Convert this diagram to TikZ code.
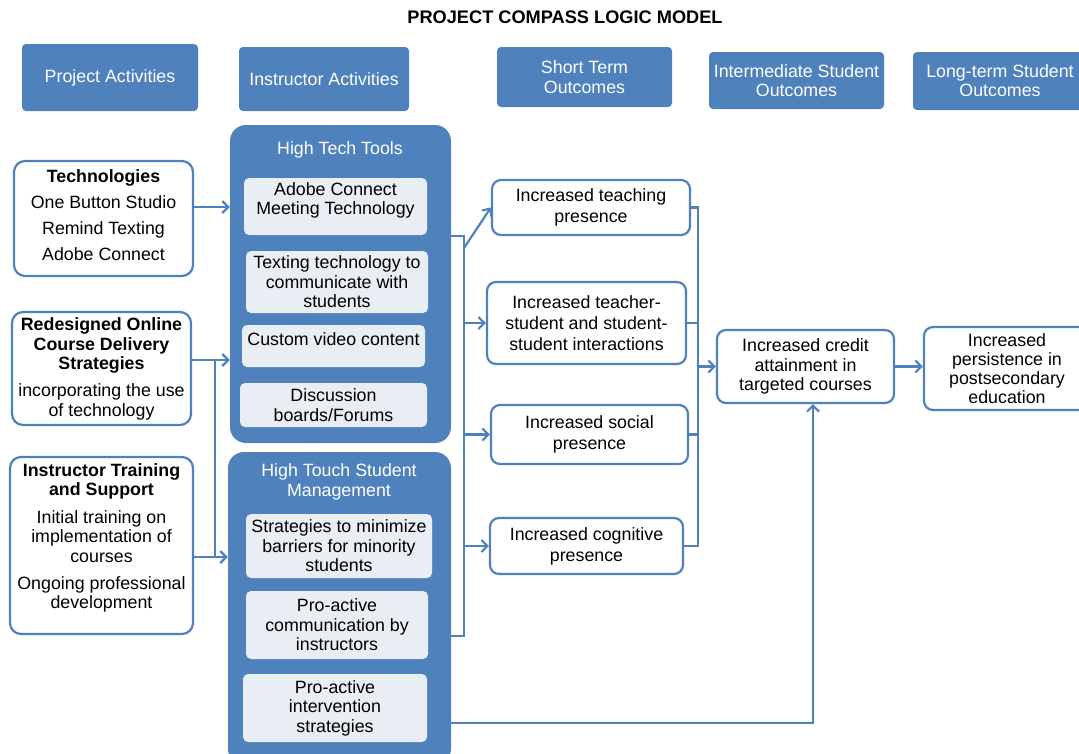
\documentclass[tikz,border=0pt]{standalone}
\usepackage{fontspec}
\setmainfont{Liberation Sans}
\usetikzlibrary{arrows.meta,calc}
\definecolor{cblue}{HTML}{4F81BD}
\definecolor{clight}{HTML}{E9EDF4}
\begin{document}
\begin{tikzpicture}[x=1pt,y=-1pt,
 every node/.style={font=\fontsize{17.8}{19.5}\selectfont, inner sep=0pt, align=center},
 hdr/.style={fill=cblue, text=white, rounded corners=4pt},
 lbox/.style={draw=cblue, line width=2.2pt, fill=white, rounded corners=11pt},
 obox/.style={draw=cblue, line width=2.2pt, fill=white, rounded corners=9pt, font=\fontsize{17.8}{21}\selectfont},
 cont/.style={fill=cblue, rounded corners=16pt},
 ibox/.style={fill=clight, rounded corners=5pt},
 conn/.style={draw=cblue, line width=2.2pt},
 arr/.style={conn, -{Straight Barb[length=6pt,width=12pt,line width=2.2pt]}},
]
\useasboundingbox (0,0) rectangle (1079,753);

% title
\node[font=\fontsize{18.2}{20}\selectfont\bfseries] (title) at (565,17) {PROJECT COMPASS LOGIC MODEL};

% headers
\node[hdr, minimum width=176, minimum height=67] (h1) at (110,77.5) {Project Activities};
\node[hdr, minimum width=170, minimum height=64] (h2) at (324,79) {Instructor Activities};
\node[hdr, minimum width=175, minimum height=60, font=\fontsize{17.8}{20}\selectfont] (h3) at (584.5,77) {Short Term\\Outcomes};
\node[hdr, minimum width=175, minimum height=57, font=\fontsize{17.8}{19}\selectfont] (h4) at (796.5,80.5) {Intermediate Student\\Outcomes};
\node[hdr, minimum width=174, minimum height=58, font=\fontsize{17.8}{19}\selectfont] (h5) at (1000,81) {Long-term Student\\Outcomes};

% left boxes
\node[lbox, minimum width=179, minimum height=115] (A) at (103.5,218.5) {};
\node (At) at (103.5,215) {\textbf{Technologies}\\[6.5pt]One Button Studio\\[6.5pt]Remind Texting\\[6.5pt]Adobe Connect};
\node[lbox, minimum width=179, minimum height=113] (B) at (101.5,368.5) {};
\node (Bt) at (101.5,369) {\textbf{Redesigned Online}\\\textbf{Course Delivery}\\\textbf{Strategies}\\[7.5pt]incorporating the use\\of technology};
\node[lbox, minimum width=183, minimum height=177] (C) at (101.5,545.5) {};
\node (Ct) at (101.5,538) {\textbf{Instructor Training}\\\textbf{and Support}\\[8pt]Initial training on\\implementation of\\courses\\[7.5pt]Ongoing professional\\development};

% containers
\node[cont, minimum width=221, minimum height=318] (HT) at (340.5,284) {};
\node[text=white] (HTt) at (340,150) {High Tech Tools};
\node[cont, minimum width=223, minimum height=313] (HTo) at (339.5,608.5) {};
\node[text=white, font=\fontsize{17.8}{20}\selectfont] (HTot) at (339,482) {High Touch Student\\Management};

% inner boxes
\node[ibox, minimum width=183, minimum height=57] (i1) at (335.5,206.5) {};
\node (i1t) at (335.5,200.5) {Adobe Connect\\Meeting Technology};
\node[ibox, minimum width=182, minimum height=62] (i2) at (337,282) {Texting technology to\\communicate with\\students};
\node[ibox, minimum width=183, minimum height=42] (i3) at (333.5,346) {};
\node (i3t) at (333.5,339) {Custom video content};
\node[ibox, minimum width=187, minimum height=44] (i4) at (333.5,405) {Discussion\\boards/Forums};
\node[ibox, minimum width=186, minimum height=64] (i5) at (339,546) {Strategies to minimize\\barriers for minority\\students};
\node[ibox, minimum width=182, minimum height=68] (i6) at (337,625) {Pro-active\\communication by\\instructors};
\node[ibox, minimum width=184, minimum height=68] (i7) at (335,708) {Pro-active\\intervention\\strategies};

% short-term outcomes
\node[obox, minimum width=198, minimum height=55] (s1) at (591,207.5) {Increased teaching\\presence};
\node[obox, minimum width=199, minimum height=82] (s2) at (586.5,323) {Increased teacher-\\student and student-\\student interactions};
\node[obox, minimum width=197, minimum height=59] (s3) at (589.5,434.5) {Increased social\\presence};
\node[obox, minimum width=193, minimum height=56] (s4) at (586.5,546) {Increased cognitive\\presence};

% intermediate and long term
\node[obox, minimum width=177, minimum height=73, font=\fontsize{17.8}{19.5}\selectfont] (cr) at (805.5,366.5) {Increased credit\\attainment in\\targeted courses};
\node[obox, minimum width=166, minimum height=83, font=\fontsize{17.8}{19}\selectfont] (ps) at (1007,368.5) {Increased\\persistence in\\postsecondary\\education};

% helper coordinates
\coordinate (yA) at (0,207);
\coordinate (yB) at (0,360);
\coordinate (yC) at (0,557);
\coordinate (jB) at (215,360);
\coordinate (jC) at (215,557);
\coordinate (bT) at (464,236);
\coordinate (bB) at (464,636);
\coordinate (bD) at (464,248);
\coordinate (rx) at (698,0);
\coordinate (bc) at (813,723);

% connectors left
\draw[arr] (A.east |- yA) -- (HT.west |- yA);
\draw[arr] (B.east |- yB) -- (HT.west |- yB);
\draw[arr] (C.east |- yC) -- (HTo.west |- yC);
\draw[conn] (jB) -- (jC);

% bracket from containers
\draw[conn] (HT.east |- bT) -- (bT) -- (bB) -- (HTo.east |- bB);
\draw[arr] (bD) -- (s1.west);
\draw[arr] (bT |- s2.west) -- (s2.west);
\draw[arr] (bT |- s3.west) -- (s3.west);
\draw[arr] (bT |- s4.west) -- (s4.west);

% bracket from short-term outcomes
\draw[conn] (s1.east) -- (s1.east -| rx) -- (s4.east -| rx) -- (s4.east);
\draw[conn] (s2.east) -- (s2.east -| rx);
\draw[conn] (s3.east) -- (s3.east -| rx);
\draw[arr] (rx |- cr.west) -- (cr.west);

% to long-term
\draw[arr] (cr.east) -- (cr.east -| ps.west);

% intervention to credit
\draw[arr] (HTo.east |- bc) -- (bc) -- (bc |- cr.south);
\end{tikzpicture}
\end{document}
